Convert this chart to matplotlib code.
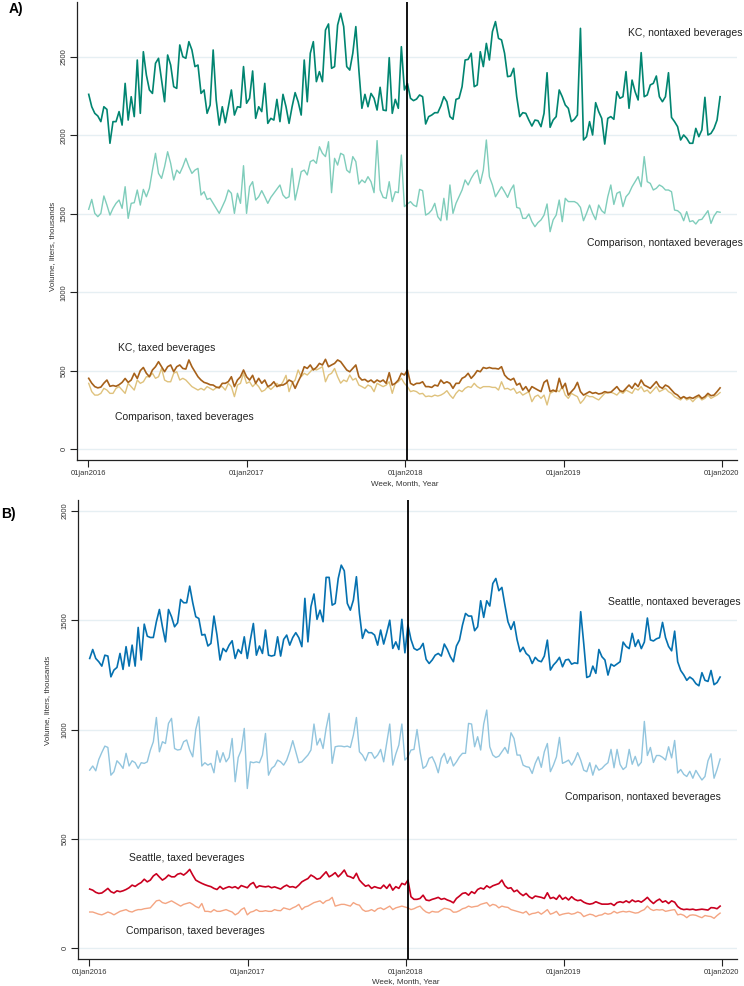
import numpy as np
import pandas as pd
import matplotlib
matplotlib.use("Agg")
import matplotlib.pyplot as plt
import matplotlib.dates as mdates

plt.rcParams['font.family'] = ['Liberation Sans', 'DejaVu Sans']

# ---------------- data (weekly, thousands of liters) ----------------
first_week = "2016-01-02"

kc_nontaxed = [
    2262,2183,2141,2124,2088,2183,2166,1950,2088,2088,2152,2066,2332,2098,2247,2120,2481,2141,2534,2385,2290,2268,
    2460,2492,2353,2215,2513,2449,2311,2300,2577,2502,2492,2598,2545,2439,2449,2268,2290,2141,2194,2545,2226,2066,
    2183,2081,2183,2290,2130,2183,2179,2439,2205,2237,2411,2109,2183,2152,2332,2077,2109,2098,2230,2088,2262,
    2183,2077,2183,2273,2215,2130,2481,2215,2524,2598,2343,2407,2343,2672,2711,2428,2439,2704,2779,2694,2439,
    2417,2524,2694,2417,2173,2262,2183,2268,2237,2162,2307,2162,2158,2496,2141,2230,2173,2566,2290,2332,2237,
    2222,2232,2258,2247,2073,2120,2130,2145,2145,2188,2247,2215,2120,2103,2230,2237,2311,2481,2485,2524,2311,2322,
    2534,2439,2587,2481,2662,2726,2619,2609,2524,2375,2379,2428,2247,2120,2145,2141,2098,2060,2098,2094,2056,
    2141,2400,2052,2098,2120,2290,2247,2194,2173,2088,2103,2130,
    2683,1971,1992,2088,2003,2209,2152,2109,1945,2109,2120,2103,2279,2237,2247,2407,2173,2353,2279,2226,2528,
    2247,2258,2322,2332,2379,2247,2215,2247,2400,2115,2088,2056,1971,2003,1982,1950,1950,2045,1992,2035,2243,
    2003,2013,2045,2098,2247]

kc_comp_nontaxed = [
    1529,1592,1503,1482,1503,1614,1556,1492,1535,1567,1588,1535,1673,1471,1567,1571,1652,1556,1656,1609,1663,
    1779,1886,1758,1726,1801,1896,1822,1716,1779,1758,1801,1854,1801,1758,1779,1790,1620,1641,1592,1599,1567,1535,1503,
    1546,1588,1652,1631,1503,1631,1567,1807,1503,1673,1705,1588,1609,1648,1609,1567,1605,1631,1656,1684,1620,
    1599,1609,1790,1588,1673,1769,1779,1748,1833,1843,1822,1928,1886,1865,1960,1635,1854,1811,1886,1875,1779,
    1762,1865,1833,1690,1716,1699,1737,1705,1635,1967,1652,1605,1599,1705,1578,1641,1635,1875,1546,1563,1578,
    1556,1546,1656,1648,1492,1503,1524,1567,1482,1456,1599,1461,1684,1503,1567,1609,1652,1716,1684,1726,1758,1779,
    1694,1779,1971,1737,1684,1609,1641,1673,1641,1605,1652,1684,1541,1535,1471,1471,1499,1450,1418,1444,1461,
    1492,1563,1386,1461,1492,1588,1450,1599,1578,1578,1578,1567,
    1541,1456,1503,1556,1503,1463,1556,1520,1503,1609,1684,1560,1631,1641,1546,1609,1631,1673,1705,1737,1673,
    1865,1705,1694,1652,1663,1684,1673,1652,1652,1641,1524,1520,1503,1456,1514,1450,1456,1435,1461,1465,1492,
    1520,1439,1486,1514,1510]

kc_taxed = [
    451,420,398,390,395,420,440,400,405,400,410,425,450,425,440,483,450,500,520,483,461,504,525,557,525,493,525,
    536,493,525,536,514,510,568,525,493,461,440,425,419,410,408,395,390,
    419,419,430,461,398,440,461,504,461,440,470,419,451,419,440,398,408,429,398,408,408,419,440,430,387,430,470,
    525,514,536,504,520,546,536,572,525,536,546,568,557,530,504,
    493,514,536,461,440,444,429,440,423,440,429,440,419,487,408,419,440,483,472,504,419,408,419,419,429,398,398,
    393,408,402,440,419,429,419,387,419,419,451,461,483,451,472,500,
    493,520,514,520,514,514,510,525,472,451,440,451,408,419,376,398,366,398,387,376,366,425,440,366,376,366,451,
    387,419,344,366,387,425,366,344,355,366,355,360,351,355,366,360,362,
    380,398,372,366,387,408,387,419,398,440,408,398,387,408,430,398,387,408,398,376,355,344,323,334,323,330,323,
    334,344,323,334,355,340,344,366,390]

kc_comp_taxed = [
    419,366,344,344,355,387,376,355,355,387,398,376,355,419,398,376,440,419,429,461,461,483,451,461,514,440,429,
    429,483,493,440,451,440,419,398,387,376,387,376,398,387,376,390,398,
    398,376,419,398,334,408,419,483,419,429,398,419,398,366,376,398,380,398,419,398,429,470,366,419,440,504,461,
    483,472,493,514,504,514,525,429,472,483,514,461,420,440,430,
    472,440,451,408,398,387,408,398,366,419,408,398,408,429,355,419,429,451,419,398,366,372,366,351,355,334,338,
    334,344,338,344,355,372,344,323,355,376,366,387,398,393,419,398,
    387,398,398,398,393,393,376,429,383,387,376,387,355,366,344,355,366,302,334,344,323,344,281,355,366,376,366,
    398,344,323,355,344,334,291,313,344,334,334,323,313,334,355,360,362,
    355,344,366,355,376,366,355,387,376,398,366,376,355,376,398,366,376,387,366,355,334,323,313,334,313,323,302,
    323,334,313,323,344,323,334,344,360]

sea_nontaxed = [
    1325,1366,1325,1310,1290,1340,1336,1241,1272,1284,1348,1275,1379,1290,1386,1290,1467,1318,1482,1427,1421,
    1421,1493,1549,1470,1401,1549,1516,1470,1488,1595,1580,1580,1656,1580,1516,1508,1432,1435,1382,1394,1519,1432,1318,
    1371,1356,1386,1406,1325,1366,1348,1424,1325,1409,1485,1340,1382,1348,1455,1340,1336,1340,1424,1336,1412,
    1432,1386,1421,1443,1420,1379,1600,1401,1562,1620,1504,1546,1493,1696,1696,1569,1577,1691,1752,1726,1577,
    1546,1592,1699,1531,1417,1458,1443,1443,1432,1386,1455,1391,1443,1500,1371,1401,1366,1504,1351,1478,1412,
    1371,1363,1371,1394,1321,1302,1318,1340,1348,1336,1391,1366,1333,1310,1382,1409,1478,1531,1519,1519,
    1452,1470,1589,1513,1589,1565,1668,1691,1635,1650,1569,1493,1458,1493,1412,1356,1376,1348,1336,1302,1330,
    1315,1310,1336,1409,1272,1295,1310,1330,1287,1318,1321,1299,1305,1302,1539,1394,1238,1244,1290,1257,1366,
    1333,1318,1249,1299,
    1290,1300,1310,1400,1380,1370,1440,1380,1410,1370,1400,1510,1410,1405,1415,1420,1490,1420,1380,1360,1450,
    1310,1270,1250,1225,1240,1230,1210,1200,1260,1225,1220,1270,1205,1215,1240]

sea_comp_nontaxed = [
    814,833,811,863,895,924,918,791,807,857,842,822,891,833,857,848,822,848,845,852,905,944,1055,898,944,936,1028,
    1051,913,906,909,944,952,906,875,1000,1058,833,848,837,845,802,903,850,
    894,852,872,959,761,872,906,1005,730,852,848,852,848,883,982,791,822,833,860,852,837,860,900,949,898,848,852,
    868,883,906,1025,929,959,913,1005,1074,845,921,924,924,921,924,
    918,974,1055,898,883,857,894,894,868,883,909,852,939,1025,837,888,929,1025,860,875,906,909,1000,898,822,833,
    868,875,845,802,868,891,845,875,833,852,875,891,891,1028,1025,921,967,
    906,1025,1089,921,883,872,878,898,918,891,985,959,883,883,837,830,827,799,845,875,827,898,936,807,837,875,964,
    845,852,860,837,860,894,860,814,807,848,791,837,814,822,837,848,909,
    825,909,840,817,829,909,841,877,833,850,1037,881,918,849,881,881,873,860,921,870,950,801,817,795,785,809,777,
    813,790,769,785,857,889,777,817,865]

sea_taxed = [
    270,265,255,250,252,262,273,258,252,262,258,262,268,276,288,282,292,300,315,303,311,330,340,325,311,320,334,
    326,326,338,342,334,345,360,334,311,303,296,290,285,281,273,268,282,
    270,276,281,276,281,272,286,281,276,292,300,276,285,282,280,283,276,280,275,270,281,288,279,281,276,288,303,
    311,318,334,326,315,319,334,349,326,334,345,326,340,357,330,
    326,319,342,311,296,283,288,273,281,276,273,288,273,292,265,281,273,296,290,311,235,223,223,227,242,220,217,
    223,227,232,223,227,220,215,207,227,238,250,253,242,258,250,268,
    275,270,285,276,285,290,295,311,285,273,276,258,265,250,240,250,235,227,238,235,232,227,253,227,232,223,242,
    223,232,220,235,223,217,220,210,204,201,204,212,206,201,201,201,204,
    195,208,212,208,216,208,220,212,216,210,220,232,216,204,216,224,210,216,204,216,210,190,180,176,178,176,178,
    174,176,178,176,174,185,184,180,192]

sea_comp_taxed = [
    165,165,160,155,152,158,165,160,152,160,168,172,176,168,165,172,176,176,180,182,
    184,200,216,219,208,204,210,216,208,200,192,200,204,208,200,190,184,204,168,168,
    165,176,168,168,172,176,170,165,152,160,176,184,152,164,168,176,168,168,171,168,
    168,176,172,171,184,180,176,184,190,200,176,188,192,200,208,212,216,204,216,220,
    232,192,196,200,200,196,192,208,200,196,176,168,170,176,168,180,184,176,184,192,
    176,184,188,192,188,184,176,180,187,192,176,165,160,168,165,165,174,182,180,176,
    164,165,171,180,184,192,187,190,192,200,204,208,192,200,196,184,192,188,186,176,
    172,168,164,160,168,152,158,160,165,155,165,176,155,160,168,150,155,158,160,155,
    158,165,160,144,150,155,152,144,150,152,160,155,158,168,160,165,168,165,168,164,
    160,162,170,176,192,178,172,176,174,176,168,171,174,176,152,155,150,139,150,152,
    150,144,139,149,146,144,136,149,160]

year_ticks = ["2016-01-01", "2017-01-01", "2018-01-01", "2019-01-01", "2020-01-01"]
policy_week = "2018-01-06"

# ---------------- figure ----------------
W, H = 744, 986
fig = plt.figure(figsize=(W / 100, H / 100), dpi=100)


def px_axes(l, t, r, b):
    return fig.add_axes([l / W, 1 - b / H, (r - l) / W, (b - t) / H])


def weeks(vals):
    return pd.to_datetime(first_week) + pd.to_timedelta(7 * np.arange(len(vals)), unit="D")


def style(ax, ylim, yticks):
    ax.set_xlim(pd.Timestamp("2015-12-06"), pd.Timestamp("2020-02-05"))
    ax.set_ylim(*ylim)
    ax.set_yticks(yticks)
    ax.set_yticklabels([str(v) for v in yticks])
    xt = pd.to_datetime(year_ticks)
    ax.set_xticks(xt)
    ax.set_xticklabels(["01jan%d" % d.year for d in xt])
    for s in ["top", "right"]:
        ax.spines[s].set_visible(False)
    for s in ["left", "bottom"]:
        ax.spines[s].set_linewidth(0.9)
        ax.spines[s].set_color("#222222")
    ax.yaxis.grid(True, color="#e6eff3", lw=1.0)
    ax.xaxis.grid(False)
    ax.set_axisbelow(True)
    ax.tick_params(axis="both", direction="out", length=5, width=0.8, colors="#222222",
                   labelsize=5.5, labelcolor="#333333", pad=2)
    ax.tick_params(axis="y", labelrotation=90)
    for lab in ax.get_yticklabels():
        lab.set_va("center")
    ax.axvline(pd.Timestamp(policy_week), color="black", lw=1.3, zorder=5)


# Panel A
axA = px_axes(77, 2, 737, 460)
axA.plot(weeks(kc_comp_nontaxed), kc_comp_nontaxed, color="#7fcdbb", lw=1.0)
axA.plot(weeks(kc_nontaxed), kc_nontaxed, color="#018571", lw=1.2)
axA.plot(weeks(kc_comp_taxed), kc_comp_taxed, color="#dfc27d", lw=1.0)
axA.plot(weeks(kc_taxed), kc_taxed, color="#a6611a", lw=1.2)
style(axA, (-70, 2851), [0, 500, 1000, 1500, 2000, 2500])

# Panel B
axB = px_axes(78, 500, 737, 959)
axB.plot(weeks(sea_comp_nontaxed), sea_comp_nontaxed, color="#92c5de", lw=1.0)
axB.plot(weeks(sea_nontaxed), sea_nontaxed, color="#0571b0", lw=1.2)
axB.plot(weeks(sea_comp_taxed), sea_comp_taxed, color="#f4a582", lw=1.0)
axB.plot(weeks(sea_taxed), sea_taxed, color="#ca0020", lw=1.2)
style(axB, (-50, 2050), [0, 500, 1000, 1500, 2000])


def ftext(x, y, s, ha="left", **kw):
    fig.text(x / W, 1 - y / H, s, ha=ha, va="center", **kw)


lab_kw = dict(fontsize=7.5, color="#222222")
ftext(743, 33, "KC, nontaxed beverages", ha="right", **lab_kw)
ftext(743, 243, "Comparison, nontaxed beverages", ha="right", **lab_kw)
ftext(118, 348, "KC, taxed beverages", **lab_kw)
ftext(115, 417, "Comparison, taxed beverages", **lab_kw)
ftext(741, 602, "Seattle, nontaxed beverages", ha="right", **lab_kw)
ftext(721, 797, "Comparison, nontaxed beverages", ha="right", **lab_kw)
ftext(129, 858, "Seattle, taxed beverages", **lab_kw)
ftext(126, 931, "Comparison, taxed beverages", **lab_kw)

ax_kw = dict(fontsize=5.8, color="#333333")
ftext(405, 484, "Week, Month, Year", ha="center", **ax_kw)
ftext(406, 982, "Week, Month, Year", ha="center", **ax_kw)
ftext(53, 246, "Volume, liters, thousands", ha="center", rotation=90, **ax_kw)
ftext(48, 700, "Volume, liters, thousands", ha="center", rotation=90, **ax_kw)

ftext(9, 9, "A)", fontsize=10, fontweight="bold", color="black")
ftext(1, 514, "B)", fontsize=10, fontweight="bold", color="black")

fig.savefig("out.png", dpi=100)
